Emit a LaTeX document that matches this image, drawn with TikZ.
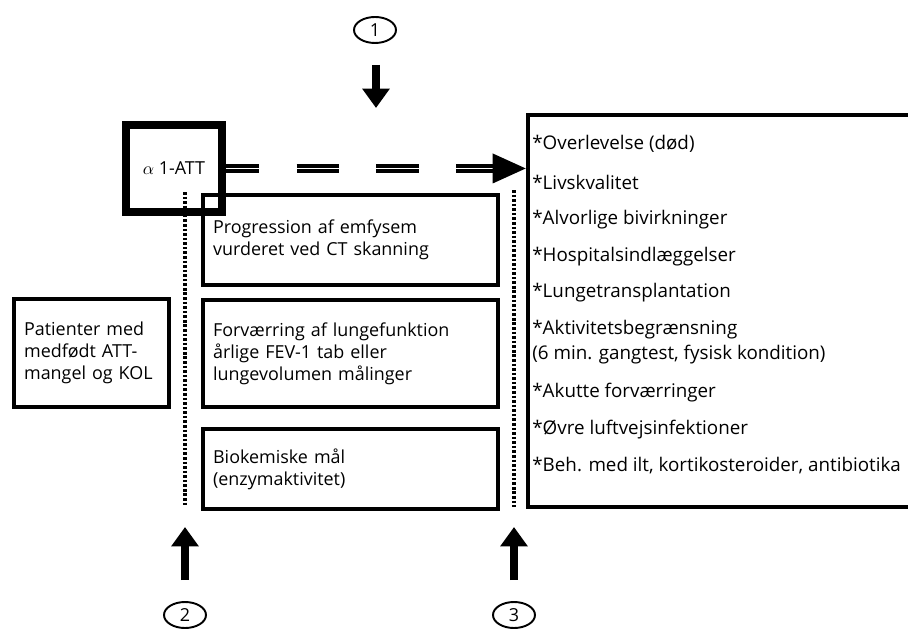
\documentclass[tikz,border=0pt]{standalone}
\usepackage{fontspec}
\setmainfont{Open Sans}
\usetikzlibrary{arrows.meta,fit,shapes.geometric,calc}

\begin{document}
\begin{tikzpicture}[x=0.02cm,y=-0.02cm,
        font=\fontsize{10.2}{12.5}\selectfont,
        box/.style={draw,line width=2.4pt,anchor=north west,align=left,inner xsep=0.2cm,inner ysep=0pt},
        alphabox/.style={draw,line width=4.5pt,minimum width=1.92cm,minimum height=1.74cm,anchor=north west},
        item/.style={anchor=west,inner sep=0pt,font=\fontsize{10.7}{13}\selectfont},
        num/.style={draw,ellipse,line width=1.1pt,minimum width=0.84cm,minimum height=0.52cm,inner sep=0pt},
        bigarrow/.style={line width=5pt,-{Triangle[length=11pt,width=15pt]}},
        dotline/.style={line width=2.8pt,dash pattern=on 1.5pt off 1.1pt},
        dline/.style={double,line width=2.1pt,double distance=0.6pt,dash pattern=on 24.1pt off 21.3pt,dash phase=5.1pt}]
        \useasboundingbox (0,0) rectangle (908,628);
        \clip (0,0) rectangle (908,628);

        % boxes on the left
        \node[box,text width=2.7cm,minimum height=2.16cm] (pat) at (12,297) {Patienter med\\medfødt ATT-\\mangel og KOL};
        \node[box,text width=5.5cm,minimum height=1.8cm] (prog) at (201,193) {Progression af emfysem\\vurderet ved CT skanning};
        \node[box,text width=5.5cm,minimum height=2.14cm] (forv) at (201,298) {Forværring af lungefunktion\\årlige FEV-1 tab eller\\lungevolumen målinger};
        \node[box,text width=5.5cm,minimum height=1.6cm] (biok) at (201,427) {Biokemiske mål\\(enzymaktivitet)};
        \node[alphabox] (alpha) at (122,121) {$\alpha$ 1-ATT};

        % outcome box
        \node[fit={(528,115) (925,507)},inner sep=0pt,draw,line width=2.6pt] (outc) {};
        \foreach \yy/\txt in {144/{*Overlevelse (død)},182/{*Livskvalitet},220/{*Alvorlige bivirkninger},
                257/{*Hospitalsindlæggelser},293/{*Lungetransplantation},330/{*Aktivitetsbegrænsning},
                355/{(6 min. gangtest, fysisk kondition)},393/{*Akutte forværringer},
                430/{*Øvre luftvejsinfektioner},466/{*Beh. med ilt, kortikosteroider, antibiotika}}
            \node[item] (out\yy) at (532,\yy) {\txt};

        % dashed arrow
        \coordinate (tip) at (alpha.east -| outc.west);
        \coordinate (hb) at ($(tip)+(-33,0)$);
        \draw[dline] (alpha.east) -- (hb);
        \fill (tip) -- ++(-33,-15) -- ++(0,30) -- cycle;

        % dotted lines
        \coordinate (d2a) at (185,192);
        \coordinate (d2b) at (185,507);
        \coordinate (d3a) at (514,190);
        \coordinate (d3b) at (514,507);
        \draw[dotline] (d2a) -- (d2b);
        \draw[dotline] (d3a) -- (d3b);

        % numbered arrows
        \node[num] (n1) at (375,30) {1};
        \node[num] (n2) at (185,615) {2};
        \node[num] (n3) at (514,615) {3};
        \coordinate (t1) at (376,65);
        \coordinate (h1) at (376,108);
        \coordinate (t2) at (185,580);
        \coordinate (h2) at (185,527);
        \coordinate (t3) at (514,580);
        \coordinate (h3) at (514,527);
        \draw[bigarrow] (t1) -- (h1);
        \draw[bigarrow] (t2) -- (h2);
        \draw[bigarrow] (t3) -- (h3);
\end{tikzpicture}
\end{document}
